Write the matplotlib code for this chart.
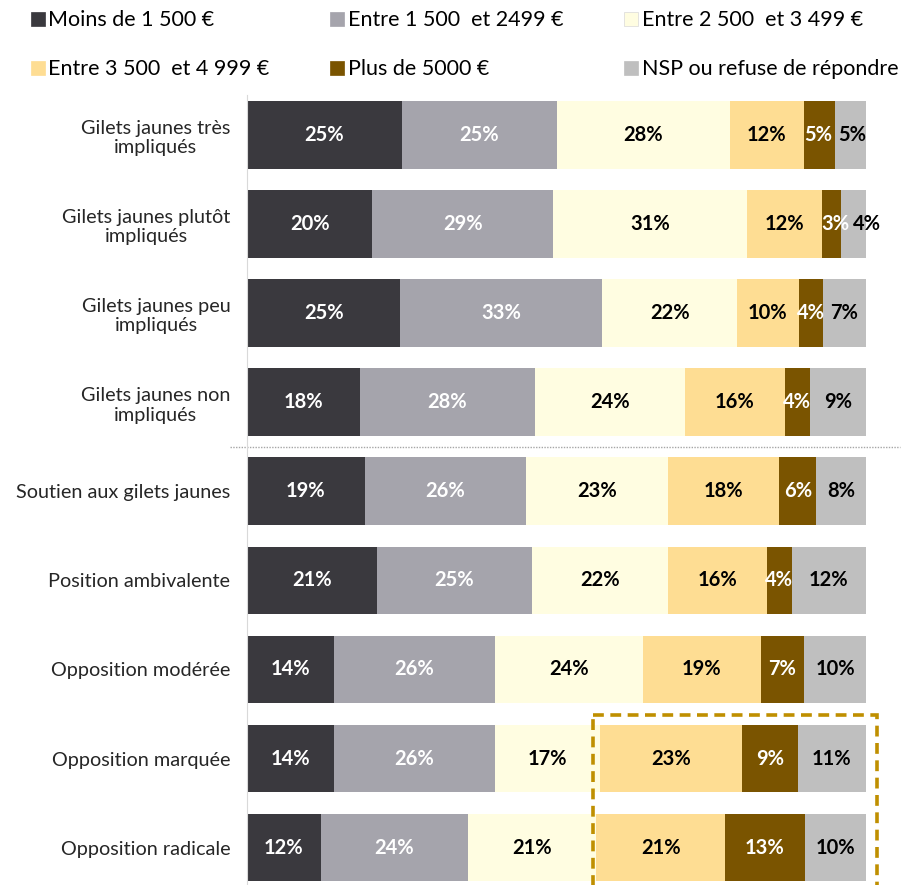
import matplotlib
matplotlib.use("Agg")
import matplotlib.pyplot as plt
from matplotlib.patches import Patch, Rectangle
import numpy as np

plt.rcParams['font.family'] = ['Lato', 'DejaVu Sans']

# données
categories = [
    "Gilets jaunes très\nimpliqués",
    "Gilets jaunes plutôt\nimpliqués",
    "Gilets jaunes peu\nimpliqués",
    "Gilets jaunes non\nimpliqués",
    "Soutien aux gilets jaunes",
    "Position ambivalente",
    "Opposition modérée",
    "Opposition marquée",
    "Opposition radicale",
]
series_names = [
    "Moins de 1 500 €",
    "Entre 1 500  et 2499 €",
    "Entre 2 500  et 3 499 €",
    "Entre 3 500  et 4 999 €",
    "Plus de 5000 €",
    "NSP ou refuse de répondre",
]
moins_1500 = [25, 20, 25, 18, 19, 21, 14, 14, 12]
de_1500_2499 = [25, 29, 33, 28, 26, 25, 26, 26, 24]
de_2500_3499 = [28, 31, 22, 24, 23, 22, 24, 17, 21]
de_3500_4999 = [12, 12, 10, 16, 18, 16, 19, 23, 21]
plus_5000 = [5, 3, 4, 4, 6, 4, 7, 9, 13]
nsp = [5, 4, 7, 9, 8, 12, 10, 11, 10]

colors = ["#3A393E", "#A5A4AC", "#FFFDE1", "#FEDD93", "#7A5400", "#BFBFBF"]
text_colors = ["white", "white", "black", "black", "white", "black"]

data = np.array([moins_1500, de_1500_2499, de_2500_3499, de_3500_4999, plus_5000, nsp], dtype=float)
shares = data / data.sum(axis=0) * 100  # chaque barre remplit 100 %

# petites étiquettes décalées comme dans l'original (série, ligne) -> décalage en x
label_shift = {(4, 1): 0.6, (5, 1): 2.2, (4, 0): -0.2, (5, 0): 0.3}

fig = plt.figure(figsize=(9.16, 8.85), dpi=100)
ax = fig.add_axes([0.2697, 0.0, 0.6757, 0.8927])

y = np.arange(len(categories))
left = np.zeros(len(categories))
for i in range(len(series_names)):
    ax.barh(y, shares[i], left=left, height=0.76, color=colors[i],
            label=series_names[i], edgecolor="none")
    for j in range(len(categories)):
        dx = label_shift.get((i, j), 0)
        ax.text(left[j] + shares[i][j] / 2 + dx, y[j], f"{int(data[i][j])}%",
                ha="center", va="center", fontsize=14.5, fontweight="bold",
                color=text_colors[i], clip_on=False)
    left += shares[i]

ax.set_xlim(0, 100)
ax.set_ylim(8.42, -0.45)
ax.set_yticks(y)
ax.set_yticklabels(categories, fontsize=14.3, multialignment="center", color="#262626")
ax.tick_params(axis="y", length=0, pad=12)
ax.set_xticks([])
for s in ["top", "right", "bottom"]:
    ax.spines[s].set_visible(False)
ax.spines["left"].set_color("#D9D9D9")

# séparateur pointillé
ax.axhline(3.5, xmin=-0.027, xmax=1.055, color="#A6A6A6", lw=1,
           linestyle=(0, (1, 1)), clip_on=False)

# cadre pointillé
rect = Rectangle((55.9, 6.506), 45.9, 2.2, fill=False, edgecolor="#BF8F00",
                 lw=2.6, linestyle=(0, (3, 1.8)), clip_on=False)
ax.add_patch(rect)

# légende
handles = [Patch(facecolor=c, edgecolor="#D9D9D9" if c == "#FFFDE1" else c, lw=0.5) for c in colors]
order = [0, 3, 1, 4, 2, 5]
fig.legend([handles[k] for k in order], [series_names[k] for k in order],
           loc="upper left", bbox_to_anchor=(0.024, 0.998), ncol=3, frameon=False,
           fontsize=15.5, handlelength=0.65, handleheight=0.65, handletextpad=0.15,
           columnspacing=2.85, labelspacing=1.35, borderaxespad=0)

fig.savefig("out.png", dpi=100)
